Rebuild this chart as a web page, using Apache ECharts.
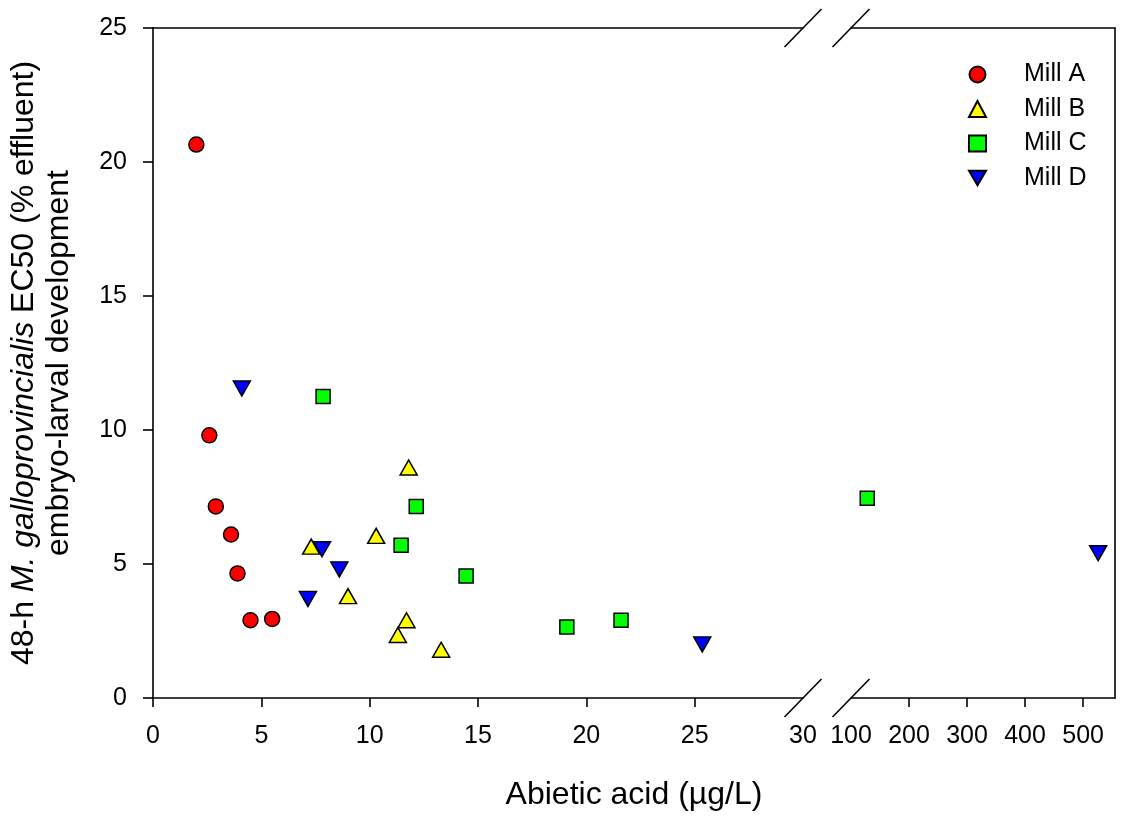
<!DOCTYPE html>
<html>
<head>
<meta charset="utf-8">
<script src="https://cdn.jsdelivr.net/npm/echarts@6/dist/echarts.min.js"></script>
<style>html,body{margin:0;padding:0;background:#fff}#c{width:1122px;height:825px}</style>
</head>
<body>
<div id="c"></div>
<script>
// ---- data ----
const seriesNames = ['Mill A', 'Mill B', 'Mill C', 'Mill D'];
const millA_x = [2.0, 2.6, 2.9, 3.6, 3.9, 4.5, 5.5];
const millA_y = [20.65, 9.8, 7.15, 6.1, 4.65, 2.9, 2.95];
const millB_x = [11.8, 10.3, 7.3, 9.0, 11.7, 11.3, 13.3];
const millB_y = [8.6, 6.05, 5.65, 3.8, 2.9, 2.35, 1.8];
const millC_x = [7.85, 12.15, 11.45, 14.45, 19.1, 21.6, 128];
const millC_y = [11.25, 7.15, 5.7, 4.55, 2.65, 2.9, 7.45];
const millD_x = [4.1, 7.8, 8.6, 7.15, 25.35, 526];
const millD_y = [11.55, 5.55, 4.8, 3.7, 2.0, 5.4];
const leftTicks = [0, 5, 10, 15, 20, 25];
const leftLabels = [0, 5, 10, 15, 20, 25, 30];
const rightTicks = [200, 300, 400, 500];
const rightLabels = [100, 200, 300, 400, 500];
const yTicks = [0, 5, 10, 15, 20, 25];
const xTitle = 'Abietic acid (\u00b5g/L)';

const FONT = '"Liberation Sans", Arial, Helvetica, sans-serif';
const colors = ['#ff0000', '#ffff00', '#00ff00', '#0000ff'];
const downTri = 'path://M0,0 L20,0 L10,17 Z';
const symbols = ['circle', 'triangle', 'rect', downTri];
const sizes = [15, [17, 15], 14, [17, 15]];
const xs = [millA_x, millB_x, millC_x, millD_x];
const ys = [millA_y, millB_y, millC_y, millD_y];

const chart = echarts.init(document.getElementById('c'), null, {renderer: 'canvas'});

const lineStyle = {color: '#000', width: 1.6};
const baseLabel = {color: '#000', fontSize: 25, fontFamily: FONT};

const series = [];
seriesNames.forEach((name, i) => {
  const left = [], right = [];
  xs[i].forEach((x, k) => {
    if (x <= 30) left.push([x, ys[i][k]]); else right.push([x, ys[i][k]]);
  });
  const common = {
    type: 'scatter', name: name, symbol: symbols[i], symbolSize: sizes[i],
    itemStyle: {color: colors[i], borderColor: '#000', borderWidth: 1.5, opacity: 1},
    emphasis: {disabled: true}, z: 5
  };
  series.push(Object.assign({}, common, {xAxisIndex: 0, yAxisIndex: 0, data: left}));
  if (right.length) series.push(Object.assign({}, common, {xAxisIndex: 2, yAxisIndex: 1, data: right}));
});

const option = {
  animation: false,
  backgroundColor: '#fff',
  grid: [
    {left: 153, top: 28, width: 650, height: 670, containLabel: false, outerBoundsMode: 'none'},
    {left: 851, top: 28, width: 264, height: 670, containLabel: false, outerBoundsMode: 'none'}
  ],
  xAxis: [
    {gridIndex: 0, type: 'value', position: 'bottom', min: 0, max: 30, interval: 5,
     axisLine: {show: true, lineStyle: lineStyle, onZero: false},
     axisTick: {show: true, inside: false, length: 9, lineStyle: lineStyle, customValues: leftTicks},
     axisLabel: Object.assign({margin: 26, customValues: leftLabels}, baseLabel),
     splitLine: {show: false}},
    {gridIndex: 0, type: 'value', position: 'top', min: 0, max: 30, interval: 5,
     axisLine: {show: true, lineStyle: lineStyle, onZero: false},
     axisTick: {show: false}, axisLabel: {show: false}, splitLine: {show: false}},
    {gridIndex: 1, type: 'value', position: 'bottom', min: 100, max: 555, interval: 100,
     axisLine: {show: true, lineStyle: lineStyle, onZero: false},
     axisTick: {show: true, inside: false, length: 9, lineStyle: lineStyle, customValues: rightTicks},
     axisLabel: Object.assign({margin: 26, customValues: rightLabels}, baseLabel),
     splitLine: {show: false}},
    {gridIndex: 1, type: 'value', position: 'top', min: 100, max: 555, interval: 100,
     axisLine: {show: true, lineStyle: lineStyle, onZero: false},
     axisTick: {show: false}, axisLabel: {show: false}, splitLine: {show: false}}
  ],
  yAxis: [
    {gridIndex: 0, type: 'value', position: 'left', min: 0, max: 25, interval: 5,
     axisLine: {show: true, lineStyle: lineStyle, onZero: false},
     axisTick: {show: true, inside: false, length: 10, lineStyle: lineStyle, customValues: yTicks},
     axisLabel: Object.assign({margin: 26}, baseLabel),
     splitLine: {show: false},
     name: '48-h {i|M. galloprovincialis} EC50 (% effluent)\nembryo-larval development',
     nameLocation: 'middle', nameRotate: 90, nameGap: 76,
     nameTextStyle: {color: '#000', fontSize: 32, fontFamily: FONT, lineHeight: 35, align: 'center',
       rich: {i: {fontStyle: 'italic', fontSize: 32, fontFamily: FONT, color: '#000', lineHeight: 35}}}},
    {gridIndex: 1, type: 'value', position: 'right', min: 0, max: 25, interval: 5,
     axisLine: {show: true, lineStyle: lineStyle, onZero: false},
     axisTick: {show: false}, axisLabel: {show: false}, splitLine: {show: false}}
  ],
  legend: {
    show: true, orient: 'vertical', left: 963, top: 57,
    itemWidth: 17, itemHeight: 16, itemGap: 9.5,
    textStyle: {color: '#000', fontSize: 25, fontFamily: FONT, padding: [0, 0, 0, 33]},
    data: seriesNames, selectedMode: false
  },
  series: series
};
chart.setOption(option);

// axis-break slashes and x title, positioned from the axes themselves
const xBreakL = chart.convertToPixel({xAxisIndex: 0}, 30);
const xBreakR = chart.convertToPixel({xAxisIndex: 2}, 100);
const yBot = chart.convertToPixel({yAxisIndex: 0}, 0);
const yTop = chart.convertToPixel({yAxisIndex: 0}, 25);
const xMidL = chart.convertToPixel({xAxisIndex: 0}, 0);
const xMidR = chart.convertToPixel({xAxisIndex: 2}, 555);
function slash(cx, cy) {
  return {type: 'line', shape: {x1: cx - 18.5, y1: cy + 19, x2: cx + 18.5, y2: cy - 19},
          style: {stroke: '#000', lineWidth: 1.6}, z: 10, silent: true};
}
chart.setOption({
  graphic: [
    slash(xBreakL, yBot), slash(xBreakR, yBot), slash(xBreakL, yTop), slash(xBreakR, yTop),
    {type: 'text', x: (xMidL + xMidR) / 2, y: yBot + 97, silent: true,
     style: {text: xTitle, fill: '#000', font: '32px ' + FONT, textAlign: 'center', textVerticalAlign: 'middle'}}
  ]
});
</script>
</body>
</html>
